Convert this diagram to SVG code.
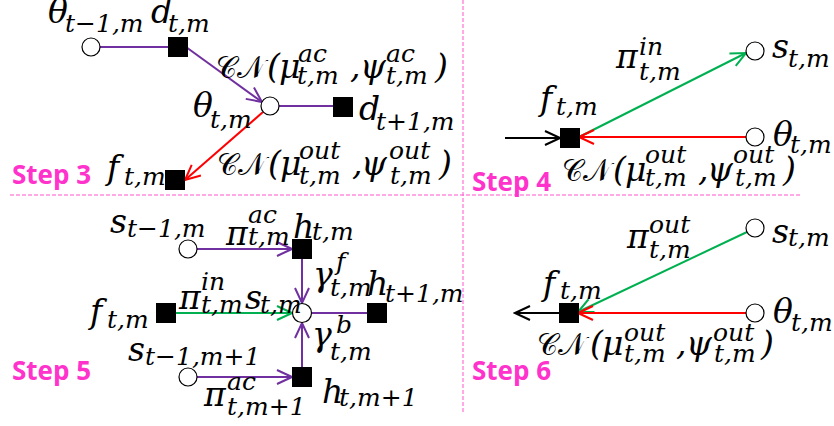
<svg xmlns="http://www.w3.org/2000/svg" width="834" height="426" viewBox="0 0 834 426">
<style>
.m{font-family:"DejaVu Serif","Liberation Serif",serif;font-style:italic;font-size:33px;fill:#000}
.s{font-family:"DejaVu Serif","Liberation Serif",serif;font-style:italic;font-size:25px;fill:#000}
.cn{font-family:"DejaVu Serif","DejaVu Sans","Noto Sans",serif;font-size:31px;fill:#000}
.st{font-family:"Open Sans","Liberation Sans",sans-serif;font-weight:bold;font-size:26px;fill:#ff33cc}
.c{fill:#fff;stroke:#000;stroke-width:1.2}
.q{fill:#000}
.dash{stroke:#ff55cc;stroke-width:1;stroke-dasharray:4 2;fill:none}
.pu{stroke:#7030a0;stroke-width:2;fill:none}
.gr{stroke:#00b050;stroke-width:2;fill:none}
.rd{stroke:#ff0000;stroke-width:2;fill:none}
.bk{stroke:#000;stroke-width:2;fill:none}
</style>
<defs>
<marker id="ap" markerUnits="userSpaceOnUse" markerWidth="18" markerHeight="18" viewBox="0 0 18 18" refX="16" refY="8" orient="auto"><path d="M1,1 L16,8 L1,15" fill="none" stroke="#7030a0" stroke-width="2"/></marker>
<marker id="ag" markerUnits="userSpaceOnUse" markerWidth="18" markerHeight="18" viewBox="0 0 18 18" refX="16" refY="8" orient="auto"><path d="M1,1 L16,8 L1,15" fill="none" stroke="#00b050" stroke-width="2"/></marker>
<marker id="ar" markerUnits="userSpaceOnUse" markerWidth="18" markerHeight="18" viewBox="0 0 18 18" refX="16" refY="8" orient="auto"><path d="M1,1 L16,8 L1,15" fill="none" stroke="#ff0000" stroke-width="2"/></marker>
<marker id="ak" markerUnits="userSpaceOnUse" markerWidth="18" markerHeight="18" viewBox="0 0 18 18" refX="16" refY="8" orient="auto"><path d="M1,1 L16,8 L1,15" fill="none" stroke="#000" stroke-width="2"/></marker>
</defs>

<g id="separators">
<line class="dash" x1="10" y1="195" x2="800" y2="195"/>
<line class="dash" x1="463" y1="0" x2="463" y2="412"/>
</g>

<g id="connectors">
<line class="pu" x1="100" y1="47" x2="168" y2="47"/>
<line class="pu" x1="186" y1="47" x2="262" y2="102" marker-end="url(#ap)"/>
<line class="pu" x1="279" y1="106" x2="333" y2="106"/>
<line class="rd" x1="263" y1="112" x2="185" y2="180" marker-end="url(#ar)"/>
<line class="bk" x1="505" y1="138" x2="560" y2="138" marker-end="url(#ak)"/>
<line class="gr" x1="579" y1="137" x2="746" y2="53" marker-end="url(#ag)"/>
<line class="rd" x1="746" y1="137" x2="579" y2="137" marker-end="url(#ar)"/>
<line class="pu" x1="197" y1="249" x2="292" y2="249" marker-end="url(#ap)"/>
<line class="pu" x1="302" y1="259" x2="302" y2="303" marker-end="url(#ap)"/>
<line class="gr" x1="176" y1="313" x2="292" y2="313" marker-end="url(#ag)"/>
<line class="pu" x1="312" y1="313" x2="367" y2="313"/>
<line class="pu" x1="302" y1="367" x2="302" y2="323" marker-end="url(#ap)"/>
<line class="pu" x1="197" y1="377" x2="292" y2="377" marker-end="url(#ap)"/>
<line class="bk" x1="559" y1="313" x2="515" y2="313" marker-end="url(#ak)"/>
<line class="gr" x1="747" y1="232" x2="578" y2="312" marker-end="url(#ag)"/>
<line class="rd" x1="746" y1="313" x2="578" y2="313" marker-end="url(#ar)"/>
</g>

<g id="s3-theta-prev">
<circle class="c" cx="91" cy="47" r="9"/>
<text class="m" x="48" y="23">θ</text><text class="s" x="65" y="32">t−1,m</text>
</g>
<g id="s3-d">
<rect class="q" x="168" y="37" width="20" height="20"/>
<text class="m" x="151" y="23">d</text><text class="s" x="168" y="32">t,m</text>
</g>
<g id="s3-theta">
<circle class="c" cx="270" cy="106" r="9"/>
<text class="m" x="193" y="117">θ</text><text class="s" x="210" y="128">t,m</text>
</g>
<g id="s3-d-next">
<rect class="q" x="333" y="97" width="20" height="20"/>
<text class="m" x="359" y="120">d</text><text class="s" x="376" y="130">t+1,m</text>
</g>
<g id="s3-f">
<rect class="q" x="165" y="170" width="20" height="20"/>
<text class="m" x="107" y="179">f</text><text class="s" x="124" y="185">t,m</text>
</g>
<g id="s3-labels">
<text class="cn" x="216" y="78" textLength="49" lengthAdjust="spacingAndGlyphs">𝒞𝒩</text>
<text class="m" x="267" y="78">(</text>
<text class="m" x="279" y="78">μ</text><text class="s" x="298" y="62">ac</text><text class="s" x="297" y="84">t,m</text>
<text class="m" x="350" y="78">,</text>
<text class="m" x="360" y="78">ψ</text><text class="s" x="386" y="62">ac</text><text class="s" x="386" y="84">t,m</text>
<text class="m" x="435" y="78">)</text>
<text class="cn" x="217" y="175" textLength="49" lengthAdjust="spacingAndGlyphs">𝒞𝒩</text>
<text class="m" x="268" y="175">(</text>
<text class="m" x="280" y="175">μ</text><text class="s" x="299" y="159">out</text><text class="s" x="299" y="184">t,m</text>
<text class="m" x="352" y="175">,</text>
<text class="m" x="361" y="175">ψ</text><text class="s" x="389" y="159">out</text><text class="s" x="390" y="184">t,m</text>
<text class="m" x="439" y="175">)</text>
<text class="st" x="12" y="184">Step 3</text>
</g>

<g id="s4-s">
<circle class="c" cx="755" cy="51" r="9"/>
<text class="m" x="772" y="58">s</text><text class="s" x="788" y="67">t,m</text>
</g>
<g id="s4-theta">
<circle class="c" cx="755" cy="137" r="9"/>
<text class="m" x="773" y="146">θ</text><text class="s" x="790" y="153">t,m</text>
</g>
<g id="s4-f">
<rect class="q" x="560" y="128" width="20" height="20"/>
<text class="m" x="540" y="110">f</text><text class="s" x="556" y="115">t,m</text>
</g>
<g id="s4-labels">
<text class="m" x="616" y="68">π</text><text class="s" x="639" y="55">in</text><text class="s" x="639" y="80">t,m</text>
<text class="cn" x="562" y="181" textLength="49" lengthAdjust="spacingAndGlyphs">𝒞𝒩</text>
<text class="m" x="613" y="181">(</text>
<text class="m" x="625" y="181">μ</text><text class="s" x="645" y="163">out</text><text class="s" x="645" y="186">t,m</text>
<text class="m" x="698" y="181">,</text>
<text class="m" x="707" y="181">ψ</text><text class="s" x="733" y="163">out</text><text class="s" x="735" y="186">t,m</text>
<text class="m" x="783" y="181">)</text>
<text class="st" x="472" y="191">Step 4</text>
</g>

<g id="s5-s-prev">
<circle class="c" cx="188" cy="249" r="9"/>
<text class="m" x="110" y="233">s</text><text class="s" x="127" y="237">t−1,m</text>
</g>
<g id="s5-h">
<rect class="q" x="292" y="239" width="20" height="20"/>
<text class="m" x="293" y="238">h</text><text class="s" x="312" y="240">t,m</text>
</g>
<g id="s5-f">
<rect class="q" x="156" y="303" width="20" height="20"/>
<text class="m" x="90" y="323">f</text><text class="s" x="107" y="328">t,m</text>
</g>
<g id="s5-s">
<circle class="c" cx="302" cy="313" r="9.5"/>
<text class="m" x="245" y="309">s</text><text class="s" x="260" y="313">t,m</text>
</g>
<g id="s5-h-next">
<rect class="q" x="367" y="303" width="20" height="20"/>
<text class="m" x="367" y="295">h</text><text class="s" x="385" y="302">t+1,m</text>
</g>
<g id="s5-s-prev2">
<circle class="c" cx="188" cy="377" r="9"/>
<text class="m" x="128" y="361">s</text><text class="s" x="145" y="365">t−1,m+1</text>
</g>
<g id="s5-h2">
<rect class="q" x="292" y="367" width="20" height="20"/>
<text class="m" x="322" y="403">h</text><text class="s" x="339" y="406">t,m+1</text>
</g>
<g id="s5-labels">
<text class="m" x="226" y="245">π</text><text class="s" x="248" y="223">ac</text><text class="s" x="248" y="245">t,m</text>
<text class="m" x="179" y="309">π</text><text class="s" x="201" y="290">in</text><text class="s" x="201" y="313">t,m</text>
<text class="m" x="313" y="286">γ</text><text class="s" x="336" y="270">f</text><text class="s" x="330" y="296">t,m</text>
<text class="m" x="312" y="346">γ</text><text class="s" x="336" y="333">b</text><text class="s" x="330" y="360">t,m</text>
<text class="m" x="204" y="406">π</text><text class="s" x="227" y="390">ac</text><text class="s" x="227" y="415">t,m+1</text>
<text class="st" x="12" y="380">Step 5</text>
</g>

<g id="s6-s">
<circle class="c" cx="755" cy="228" r="9"/>
<text class="m" x="772" y="243">s</text><text class="s" x="788" y="246">t,m</text>
</g>
<g id="s6-theta">
<circle class="c" cx="755" cy="313" r="9"/>
<text class="m" x="773" y="323">θ</text><text class="s" x="791" y="331">t,m</text>
</g>
<g id="s6-f">
<rect class="q" x="559" y="303" width="20" height="20"/>
<text class="m" x="543" y="295">f</text><text class="s" x="560" y="299">t,m</text>
</g>
<g id="s6-labels">
<text class="m" x="627" y="248">π</text><text class="s" x="649" y="233">out</text><text class="s" x="649" y="258">t,m</text>
<text class="cn" x="537" y="355" textLength="49" lengthAdjust="spacingAndGlyphs">𝒞𝒩</text>
<text class="m" x="590" y="355">(</text>
<text class="m" x="602" y="355">μ</text><text class="s" x="624" y="341">out</text><text class="s" x="624" y="362">t,m</text>
<text class="m" x="676" y="355">,</text>
<text class="m" x="686" y="355">ψ</text><text class="s" x="713" y="341">out</text><text class="s" x="714" y="362">t,m</text>
<text class="m" x="761" y="355">)</text>
<text class="st" x="472" y="380">Step 6</text>
</g>
</svg>
